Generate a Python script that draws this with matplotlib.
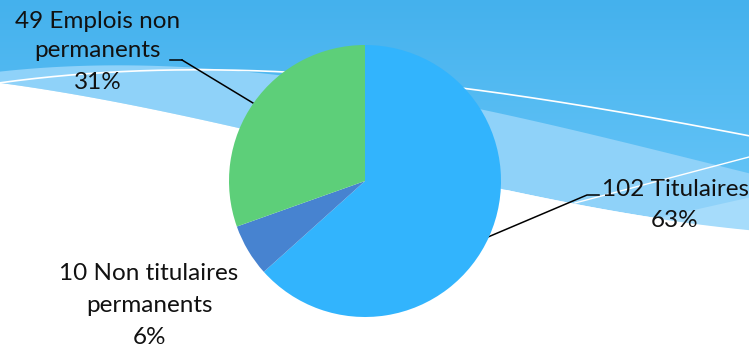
import matplotlib
matplotlib.use("Agg")
import matplotlib.pyplot as plt
import numpy as np

# data
categories = ["Titulaires", "Non titulaires permanents", "Emplois non permanents"]
counts = [102, 10, 49]
percents = [63, 6, 31]
colors = ["#32b4fd", "#4783d0", "#5dcf79"]

W, H = 749, 351
fig = plt.figure(figsize=(W / 100, H / 100), dpi=100)

# background in pixel coords (image y goes down)
bg = fig.add_axes([0, 0, 1, 1])
bg.set_xlim(0, W)
bg.set_ylim(H, 0)
bg.axis("off")

grad = np.linspace(0, 1, 256).reshape(256, 1, 1)
top = np.array([0x44, 0xb1, 0xed]) / 255
bot = np.array([0x64, 0xc4, 0xf7]) / 255
img = (top + (bot - top) * grad) * np.ones((1, 2, 1))
bg.imshow(img, extent=[0, W, 190, 0], aspect="auto", zorder=0)

xs = np.linspace(0, W, 300)
def curve(pts, deg=3):
    p = np.polyfit([a for a, b in pts], [b for a, b in pts], deg)
    return np.polyval(p, xs)

upper = curve([(0, 71), (150, 68), (280, 73), (482, 110), (600, 137), (749, 173)])
lower = curve([(0, 83), (240, 128), (502, 190), (620, 211), (749, 230)])
line1 = curve([(0, 83), (150, 70), (280, 72), (465, 89), (600, 108), (749, 136)])

bg.fill_between(xs, upper, lower, color="#8fd2f9", lw=0, zorder=1)
bg.fill_between(xs, lower, H + 5, color="white", lw=0, zorder=1)
m = xs >= 660
edge = np.interp(xs[m], [660, 749], [217, 197])
bg.fill_between(xs[m], edge, lower[m], color="#a6dcfb", lw=0, zorder=1)
bg.plot(xs, line1, color="white", lw=1.2, zorder=2)
bg.plot([575, 662, 749], [203, 180, 157], color="white", lw=1.0, zorder=2)

# pie: centre (365,181), radius 136 px
cx, cy, r = 365, 181, 136
ax = fig.add_axes([(cx - r) / W, (H - cy - r) / H, 2 * r / W, 2 * r / H])
ax.pie(counts, colors=colors, startangle=90, counterclock=False,
       wedgeprops=dict(linewidth=0))
ax.set_xlim(-1, 1)
ax.set_ylim(-1, 1)
ax.set_zorder(3)

font = dict(family=["Lato", "DejaVu Sans"], size=17.5, color="#111111")

def label(i, xc, baselines):
    words = categories[i].split(" ")
    if len(words) > 2:
        lines = [f"{counts[i]} " + " ".join(words[:-1]), words[-1]]
    else:
        lines = [f"{counts[i]} {categories[i]}"]
    lines.append(f"{percents[i]}%")
    for t, yb in zip(lines, baselines):
        bg.text(xc, yb, t, ha="center", va="baseline", zorder=5, **font)

label(2, 98, [28, 57, 89])
label(0, 675, [196, 227])
label(1, 149, [280, 312, 344])

# leader lines
bg.plot([182, 170], [60, 60], color="black", lw=1.1, zorder=4)
bg.plot([253, 182], [103, 60], color="black", lw=1.1, zorder=4)
bg.plot([488, 587, 599], [237, 195, 195], color="black", lw=1.1, zorder=6)

fig.savefig("out.png", dpi=100)
